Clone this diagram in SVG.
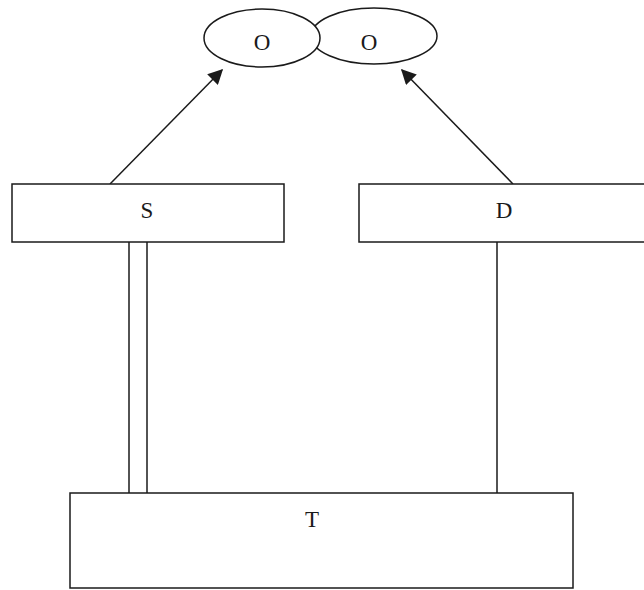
<svg xmlns="http://www.w3.org/2000/svg" width="644" height="590" viewBox="0 0 644 590">
  <style>
    .shape { fill: #ffffff; stroke: #1a1a1a; stroke-width: 1.5; }
    .link { fill: none; stroke: #1a1a1a; stroke-width: 1.5; }
    .label { font-family: "Liberation Serif", "Times New Roman", serif; font-size: 23px; fill: #1a1a1a; text-anchor: middle; }
  </style>
  <defs>
    <marker id="arrow" viewBox="0 0 10 10" refX="9" refY="5" markerWidth="18" markerHeight="15" markerUnits="userSpaceOnUse" orient="auto">
      <path d="M0,0 L10,5 L0,10 Z" fill="#1a1a1a"/>
    </marker>
  </defs>
  <rect width="644" height="590" fill="#ffffff"/>

  <g id="connectors">
    <line class="link" x1="110" y1="184" x2="222" y2="70" marker-end="url(#arrow)"/>
    <line class="link" x1="513" y1="184" x2="402" y2="70" marker-end="url(#arrow)"/>
    <line class="link" x1="129" y1="242" x2="129" y2="493"/>
    <line class="link" x1="147" y1="242" x2="147" y2="493"/>
    <line class="link" x1="497" y1="242" x2="497" y2="493"/>
  </g>

  <!-- right ellipse sits behind the left one -->
  <g id="node-o2">
    <ellipse class="shape" cx="374" cy="36" rx="63" ry="28"/>
    <text class="label" x="369" y="50">O</text>
  </g>
  <g id="node-o1">
    <ellipse class="shape" cx="262" cy="38" rx="58" ry="29"/>
    <text class="label" x="262" y="50">O</text>
  </g>

  <g id="node-s">
    <rect class="shape" x="12" y="184" width="272" height="58"/>
    <text class="label" x="147" y="218">S</text>
  </g>
  <g id="node-d">
    <rect class="shape" x="359" y="184" width="290" height="58"/>
    <text class="label" x="504" y="218">D</text>
  </g>
  <g id="node-t">
    <rect class="shape" x="70" y="493" width="503" height="95"/>
    <text class="label" x="312" y="527">T</text>
  </g>
</svg>
